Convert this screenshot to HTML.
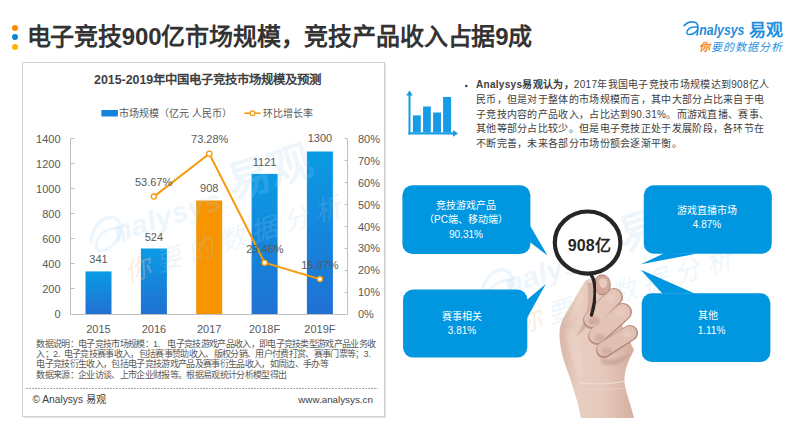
<!DOCTYPE html>
<html lang="zh-CN"><head><meta charset="utf-8">
<style>
html,body{margin:0;padding:0;background:#fff;}
body{width:800px;height:423px;position:relative;overflow:hidden;font-family:"Liberation Sans",sans-serif;color:#404040;}
.a{position:absolute;white-space:nowrap;}
.dot{position:absolute;width:6px;height:6px;border-radius:50%;}
#title{left:26.5px;top:21.2px;font-size:24px;font-weight:bold;color:#333;line-height:32px;letter-spacing:-0.16px;}
#card{position:absolute;left:22px;top:62px;width:361px;height:352.5px;border:1px solid #d2d2d2;box-shadow:0.5px 0.5px 1px rgba(0,0,0,0.12);}
.notes{font-size:9px;line-height:10.2px;color:#595959;letter-spacing:-0.67px;}
.nn{display:inline-block;letter-spacing:0;}
.rt{font-size:10px;line-height:14.8px;color:#404040;letter-spacing:0.3px;}
.box{position:absolute;color:#fff;font-size:10px;line-height:14.4px;text-align:center;}
</style></head><body>
<div class="dot" style="left:12px;top:25px;background:#ff8a00"></div>
<div class="dot" style="left:12px;top:34px;background:#0a86d8"></div>
<div class="dot" style="left:12px;top:44px;background:#ffb300"></div>
<div id="title" class="a">电子竞技900亿市场规模，竞技产品收入占据9成</div>

<div id="card"></div>
<!-- logo -->
<svg class="a" style="left:0;top:0" width="800" height="423" viewBox="0 0 800 423">
  <g>
      <path d="M684.2 25.6 C687 22.6 691.5 21.4 694.8 22.3 C697.6 23.2 698.2 26.5 697.8 29.5 L697.1 35" stroke="#1f8fde" stroke-width="1.7" fill="none" stroke-linecap="round"/>
      <path d="M696.6 27.2 C693 26.3 688.8 27.8 687.2 30.8 C686.2 33 687.2 34.8 689.6 34.6 C692.5 34.3 695.8 32.2 697.3 30" stroke="#1f8fde" stroke-width="1.5" fill="none" stroke-linecap="round"/>
      <text x="0" y="0" transform="translate(699.3 34.9) scale(0.88 1)" font-family="Liberation Sans" font-style="italic" font-weight="bold" font-size="14" fill="#1f8fde">nalysys</text>
      <text x="748.6" y="36.2" font-family="Liberation Sans" font-weight="bold" font-size="17" fill="#1f8fde">易观</text>
      <text x="699.3" y="51.2" font-family="Liberation Sans" font-style="italic" font-size="11" letter-spacing="1" fill="#1f8fde"><tspan fill="#f0882a" font-weight="bold">你</tspan>要的数据分析</text>
  </g>
</svg>


<svg class="a" style="left:0;top:0" width="800" height="423" viewBox="0 0 800 423">
  <defs>
    <linearGradient id="bg" x1="0" y1="0" x2="0" y2="1">
      <stop offset="0" stop-color="#0a9be4"/>
      <stop offset="1" stop-color="#2071d3"/>
    </linearGradient>
  </defs>
  <!-- axes -->
  <g stroke="#bfbfbf" stroke-width="1" fill="none">
    <path d="M70.5 138.5 V314.5 H347.5 V138.5"/>
    <path d="M70.5 138.5h4M70.5 163.5h4M70.5 188.5h4M70.5 213.5h4M70.5 238.5h4M70.5 263.5h4M70.5 288.5h4"/>
    <path d="M347.5 138.5h-3M347.5 160.5h-3M347.5 182.5h-3M347.5 204.5h-3M347.5 226.5h-3M347.5 248.5h-3M347.5 270.5h-3M347.5 292.5h-3"/>
  </g>
  <!-- bars -->
  <rect x="85.5" y="271.4" width="26" height="42.6" fill="url(#bg)"/>
  <rect x="140.9" y="248.5" width="26" height="65.5" fill="url(#bg)"/>
  <rect x="196.2" y="200.5" width="26" height="113.5" fill="#f79400"/>
  <rect x="251.6" y="173.9" width="26" height="140.1" fill="url(#bg)"/>
  <rect x="306.9" y="151.5" width="26" height="162.5" fill="url(#bg)"/>
  <!-- line -->
  <polyline points="153.9,196.6 209.3,153.7 264.6,262.7 319.9,279.1" fill="none" stroke="#f79a0e" stroke-width="2"/>
  <g fill="#fff" stroke="#f79a0e" stroke-width="1.3">
    <circle cx="153.9" cy="196.6" r="2.6"/>
    <circle cx="209.3" cy="153.7" r="2.6"/>
    <circle cx="264.6" cy="262.7" r="2.6"/>
    <circle cx="319.9" cy="279.1" r="2.6"/>
  </g>
  <g transform="translate(95 248) rotate(-17.5)" style="color:rgba(165,208,242,0.2)">
      <path d="M-2 -6 C2 -20 16 -28 26 -24 C33 -21 32 -10 30 2" stroke="currentColor" stroke-width="3.5" fill="none" stroke-linecap="round"/>
      <path d="M29 -12 C20 -16 6 -12 2 -3 C0 3 4 6 10 5 C18 4 26 -2 30 -8" stroke="currentColor" stroke-width="3" fill="none" stroke-linecap="round"/>
      <text x="0" y="0" transform="translate(22 1) scale(1.05 1)" font-family="Liberation Sans" font-style="italic" font-weight="bold" font-size="29" fill="currentColor">nalysys</text>
      <text x="146" y="-5" font-family="Liberation Sans" font-weight="bold" font-size="43" fill="currentColor">易观</text>
      <text x="21" y="42" font-family="Liberation Sans" font-style="italic" font-size="26" letter-spacing="7.2" fill="currentColor"><tspan style="fill:rgba(250,200,165,0.35)">你</tspan>要的数据分析</text>
  </g>
  <!-- legend -->
  <rect x="101.4" y="110" width="16.5" height="6.5" fill="#1483db"/>
  <line x1="244.4" y1="113.2" x2="260.6" y2="113.2" stroke="#f79a0e" stroke-width="1.6"/>
  <circle cx="252.5" cy="113.2" r="2.4" fill="#fff" stroke="#f79a0e" stroke-width="1.2"/>

  <!-- chart text -->
  <g font-family="Liberation Sans" font-size="11" fill="#595959">
    <g text-anchor="end">
      <text x="60.6" y="142.5">1400</text>
      <text x="60.6" y="167.5">1200</text>
      <text x="60.6" y="192.5">1000</text>
      <text x="60.6" y="217.5">800</text>
      <text x="60.6" y="242.5">600</text>
      <text x="60.6" y="267.5">400</text>
      <text x="60.6" y="292.5">200</text>
      <text x="60.6" y="317.5">0</text>
    </g>
    <g text-anchor="start">
      <text x="358" y="142.9">80%</text>
      <text x="358" y="164.8">70%</text>
      <text x="358" y="186.7">60%</text>
      <text x="358" y="208.6">50%</text>
      <text x="358" y="230.5">40%</text>
      <text x="358" y="252.4">30%</text>
      <text x="358" y="274.3">20%</text>
      <text x="358" y="296.2">10%</text>
      <text x="358" y="318.1">0%</text>
    </g>
    <g text-anchor="middle">
      <text x="98.5" y="332.5">2015</text>
      <text x="153.9" y="332.5">2016</text>
      <text x="209.2" y="332.5">2017</text>
      <text x="264.6" y="332.5">2018F</text>
      <text x="319.9" y="332.5">2019F</text>
      <text x="98.5" y="263.2">341</text>
      <text x="153.9" y="240.8">524</text>
      <text x="209.2" y="191.7">908</text>
      <text x="264.6" y="166.2">1121</text>
      <text x="319.9" y="142.2">1300</text>
      <text x="153.6" y="186">53.67%</text>
      <text x="209.7" y="143.2">73.28%</text>
      <text x="264.8" y="252.9">23.46%</text>
      <text x="319.9" y="268.6">15.97%</text>
    </g>
  </g>

  <!-- dashed line -->
  <line x1="26" y1="388.5" x2="378" y2="388.5" stroke="#a6a6a6" stroke-width="1" stroke-dasharray="2,1"/>

  <!-- icon -->
  <g fill="#169be6">
    <rect x="408.5" y="93" width="2" height="41.5"/>
    <path d="M409.5 90.5 L412.8 95.5 L406.2 95.5 Z"/>
    <rect x="408.5" y="132.3" width="46" height="2.2"/>
    <path d="M458 133.4 L453 130.1 L453 136.7 Z"/>
    <rect x="412.9" y="115.4" width="7.9" height="17"/>
    <rect x="423.1" y="106.5" width="7.7" height="26"/>
    <rect x="433.1" y="112.5" width="7.9" height="20"/>
    <rect x="443.1" y="97" width="8" height="35.5"/>
  </g>
  <circle cx="466.3" cy="86" r="1.3" fill="#404040"/>
</svg>

<div class="a" style="left:94px;top:72px;font-size:12.4px;font-weight:bold;color:#404040;line-height:16px">2015-2019年中国电子竞技市场规模及预测</div>
<div class="a" style="left:119px;top:107px;font-size:10px;line-height:14px;color:#595959">市场规模（亿元 人民币）</div>
<div class="a" style="left:263px;top:107px;font-size:10px;line-height:14px;color:#595959">环比增长率</div>

<div class="a notes" style="left:36.3px;top:338.9px">数据说明：电子竞技市场规模：<span class="nn" style="width:14.3px">1.</span>电子竞技游戏产品收入，即电子竞技类型游戏产品业务收<br>入；<span class="nn" style="width:10.7px">2.</span>电子竞技赛事收入，包括赛事赞助收入、版权分销、用户付费打赏、赛事门票等；<span class="nn" style="width:10.7px">3.</span><br>电子竞技衍生收入，包括电子竞技游戏产品及赛事衍生品收入，如周边、手办等<br>数据来源：企业访谈、上市企业财报等。根据易观统计分析模型得出</div>

<div class="a" style="left:32.5px;top:392px;font-size:10.2px;line-height:15px;color:#404040">© Analysys 易观</div>
<div class="a" style="left:298.3px;top:392px;font-size:9.8px;line-height:15px;color:#404040">www.analysys.cn</div>

<div class="a rt" style="left:476px;top:78px"><b>Analysys易观认为，</b>2017年我国电子竞技市场规模达到908亿人<br>民币，但是对于整体的市场规模而言，其中大部分占比来自于电<br>子竞技内容的产品收入，占比达到90.31%。而游戏直播、赛事、<br>其他等部分占比较少。但是电子竞技正处于发展阶段，各环节在<br>不断完善，未来各部分市场份额会逐渐平衡。</div>

<svg class="a" style="left:0;top:0" width="800" height="423" viewBox="0 0 800 423">
  <g transform="translate(486 300.5) rotate(-17.5)" style="color:rgba(165,208,242,0.2)">
      <path d="M-2 -6 C2 -20 16 -28 26 -24 C33 -21 32 -10 30 2" stroke="currentColor" stroke-width="3.5" fill="none" stroke-linecap="round"/>
      <path d="M29 -12 C20 -16 6 -12 2 -3 C0 3 4 6 10 5 C18 4 26 -2 30 -8" stroke="currentColor" stroke-width="3" fill="none" stroke-linecap="round"/>
      <text x="0" y="0" transform="translate(22 1) scale(1.05 1)" font-family="Liberation Sans" font-style="italic" font-weight="bold" font-size="29" fill="currentColor">nalysys</text>
      <text x="146" y="-5" font-family="Liberation Sans" font-weight="bold" font-size="43" fill="currentColor">易观</text>
      <text x="21" y="42" font-family="Liberation Sans" font-style="italic" font-size="26" letter-spacing="7.2" fill="currentColor"><tspan style="fill:rgba(250,200,165,0.35)">你</tspan>要的数据分析</text>
  </g>
</svg>
<!-- callouts + magnifier -->
<svg class="a" style="left:0;top:0" width="800" height="423" viewBox="0 0 800 423">
  <g fill="#0096e0">
    <rect x="402.4" y="185.3" width="128" height="68.7" rx="10"/>
    <path d="M524 226.3 L530.4 226.3 L547.5 255.4 L530.4 242.6 L524 242.6 Z"/>
    <rect x="403.1" y="289.6" width="124.2" height="68" rx="10"/>
    <path d="M521 299.5 L527.3 299.5 L545.8 283.9 L527.3 317.5 L521 317.5 Z"/>
    <rect x="643.8" y="185.3" width="128" height="68.4" rx="10"/>
    <path d="M664.8 253 L640.8 264.3 L696.2 253.8 Z"/>
    <rect x="641.7" y="293.2" width="128.7" height="68.7" rx="10"/>
    <path d="M662.3 293.5 L640.8 269.7 L694.6 293.5 Z"/>
  </g>
</svg>

<div class="box a" style="left:402px;top:199px;width:128px">竞技游戏产品<br>（PC端、移动端）<br>90.31%</div>
<div class="box a" style="left:403px;top:310px;width:118px">赛事相关<br>3.81%</div>
<div class="box a" style="left:644px;top:203.5px;width:126px">游戏直播市场<br>4.87%</div>
<div class="box a" style="left:697.7px;top:309.4px;text-align:left">其他<br>1.11%</div>


<!-- hand + magnifier -->
<svg class="a" style="left:0;top:0" width="800" height="423" viewBox="0 0 800 423">
  <defs>
    <linearGradient id="skin" x1="0" y1="0" x2="1" y2="0">
      <stop offset="0" stop-color="#d8b5a7"/>
      <stop offset="0.25" stop-color="#e8cdc1"/>
      <stop offset="0.6" stop-color="#e5c8bb"/>
      <stop offset="1" stop-color="#d5ae9f"/>
    </linearGradient>
    <filter id="bl" x="-10%" y="-10%" width="120%" height="120%"><feGaussianBlur stdDeviation="0.6"/></filter>
    <filter id="bl2" x="-30%" y="-30%" width="160%" height="160%"><feGaussianBlur stdDeviation="1.2"/></filter>
  </defs>
  <g filter="url(#bl)">
  <!-- palm / thumb / wrist -->
  <path d="M585.5 280.5 C581 287 577 295 571 305 C566 313 560 322 559.5 332 C559 345 563 360 569 375 C573 387 578 402 581 418 L634 418 C631 405 626 393 624.5 383 C624 373 627 364 631 356 L634 350 L610 300 C605 290 600 282 595 278 C591 278 588 279 585.5 280.5 Z" fill="url(#skin)"/>
  <!-- thumb shadow along handle -->
  <path d="M593 283 C596 292 596 306 592 318 C588 326 582 332 576 336 C583 326 587 314 588 302 C588.5 294 588 288 587 283 Z" fill="#bb9084" opacity="0.45"/>
  <!-- finger separators (dark) -->
  <g stroke="#b58c80" stroke-linecap="round" fill="none">
    <path d="M592 320 L614 297" stroke-width="18"/>
    <path d="M597 336 L623 312" stroke-width="18"/>
    <path d="M604 350 L630 333" stroke-width="16"/>
  </g>
  <!-- fingers -->
  <g stroke-linecap="round" fill="none">
    <path d="M592 319 L613.5 297" stroke="#e3c4b7" stroke-width="16"/>
    <path d="M597 335 L622.5 312" stroke="#e2c3b5" stroke-width="16"/>
    <path d="M604 349 L629.5 333" stroke="#e0c0b2" stroke-width="14"/>
  </g>
  </g>
  <g filter="url(#bl2)">
    <!-- palm shadow under pinky -->
    <path d="M600 356 C608 362 620 360 631 352 C627 362 615 368 602 364 Z" fill="#bb9180" opacity="0.45"/>
    <!-- highlight -->
    <path d="M566 330 C568 350 574 368 582 382 C584 366 580 346 574 328 Z" fill="#efd7ca" opacity="0.5"/>
    <path d="M580 292 C576 302 572 312 570 322 C575 314 580 304 584 294 Z" fill="#efd7ca" opacity="0.5"/>
    <!-- knuckle highlights -->
    <ellipse cx="611" cy="298" rx="5" ry="4" fill="#ecd1c4" opacity="0.6"/>
    <ellipse cx="620" cy="313" rx="5" ry="4" fill="#ecd1c4" opacity="0.55"/>
    <ellipse cx="627" cy="334" rx="4.5" ry="3.5" fill="#ecd1c4" opacity="0.5"/>
    <!-- fingertip nails lower-left -->
    <ellipse cx="594" cy="321" rx="6" ry="4.5" fill="#c99e92" opacity="0.65"/>
    <ellipse cx="600" cy="338" rx="5.5" ry="4" fill="#c99e92" opacity="0.6"/>
    <ellipse cx="607" cy="351" rx="5" ry="3.5" fill="#c99e92" opacity="0.55"/>
  </g>
  <!-- wrist creases -->
  <path d="M580 383 C594 384.5 610 384.5 625 381" stroke="#f3e4dc" stroke-width="0.9" fill="none" opacity="0.9"/>
  <path d="M582 389 C596 390 612 390 626 388" stroke="#efdcd2" stroke-width="0.7" fill="none" opacity="0.7"/>
  <!-- index fingertip -->
  <path d="M595 283 C595 277 599 274.5 603 275 C609 275.5 611 282 610 288 C609 293 604 295.5 600 294.5 C596.5 293.5 595 288 595 283 Z" fill="#d4a99b" stroke="#9c7468" stroke-width="0.8" filter="url(#bl)"/>
  <path d="M599 281 C600 278 605 277.5 607 281 C608 284 606 288 603 288 C600.5 287.5 599 284.5 599 281 Z" fill="#eed6cc" opacity="0.75" filter="url(#bl)"/>
  <!-- handle -->
  <path d="M589.5 273 C593 276 594.5 281 595 288 C595.5 296 594.5 305 591.5 315" stroke="#2c2422" stroke-width="3.4" fill="none" stroke-linecap="round" filter="url(#bl)"/>
  <!-- ring -->
  <ellipse cx="587.6" cy="242.6" rx="32.8" ry="31.1" fill="#fff" stroke="#262626" stroke-width="4.2"/>
  <text x="589.2" y="251" font-family="Liberation Sans" font-weight="bold" font-size="16" fill="#262626" text-anchor="middle">908亿</text>
</svg>

</body></html>
